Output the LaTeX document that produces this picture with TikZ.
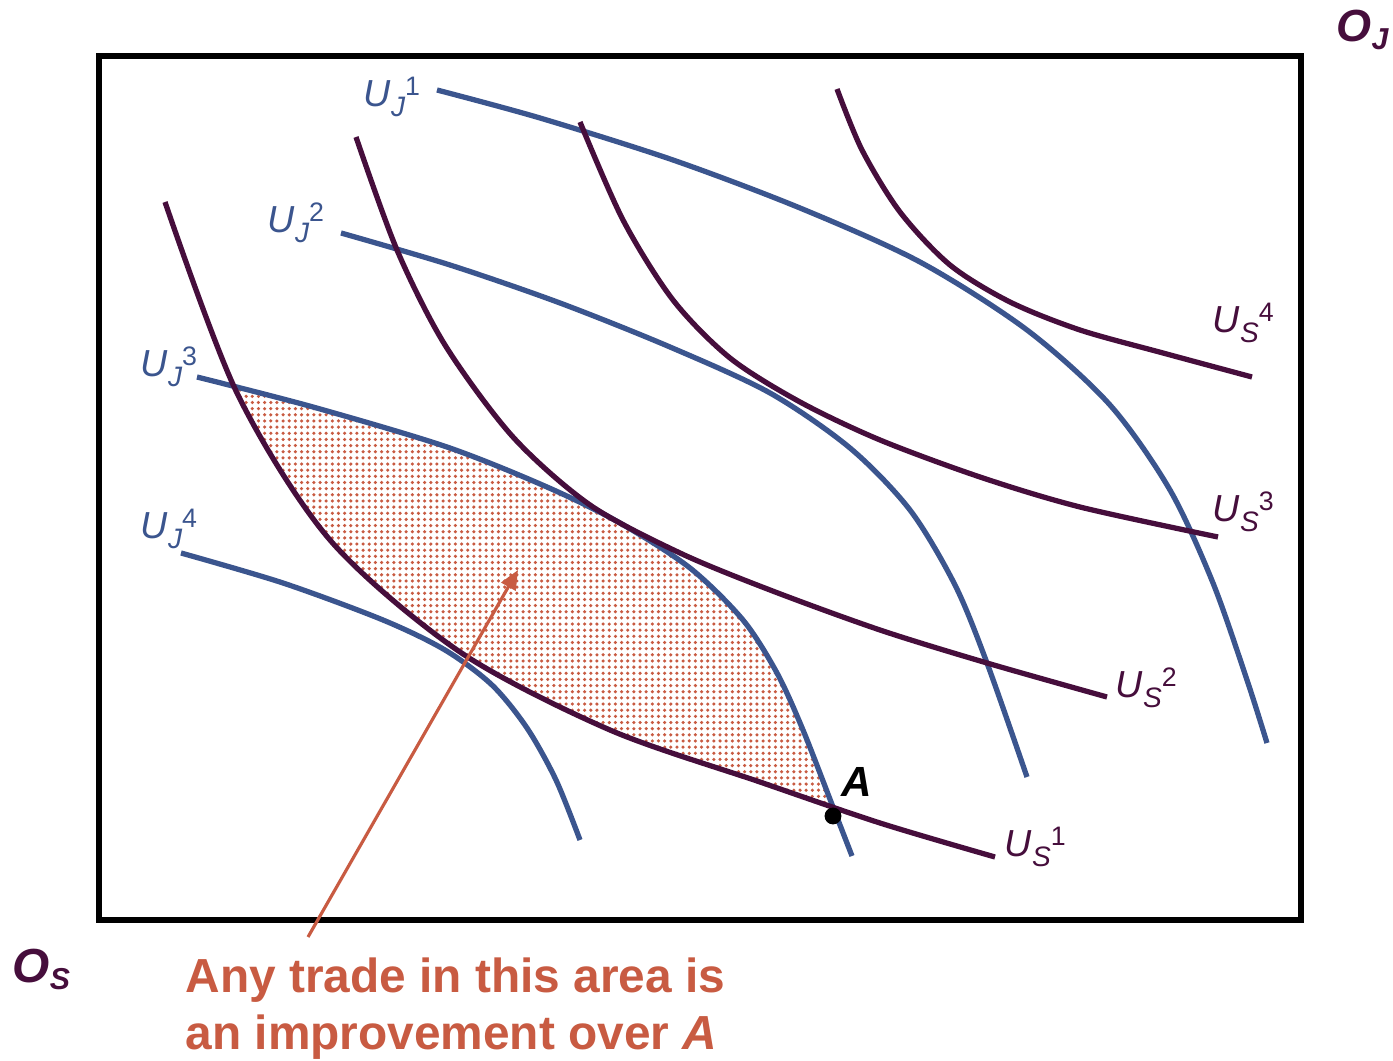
\documentclass[tikz,border=0pt]{standalone}
\usepackage{fontspec}
\setmainfont{Liberation Sans}
\usepackage{xcolor}
\usepackage{tikz}
\usetikzlibrary{patterns}
\usetikzlibrary{arrows.meta}

\definecolor{jblue}{RGB}{59,85,142}
\definecolor{splum}{RGB}{70,14,60}
\definecolor{notered}{RGB}{200,91,66}

% puntos finos para la zona sombreada
\pgfdeclarepatternformonly{finedots}{\pgfqpoint{-0.875pt}{-0.875pt}}{\pgfqpoint{0.875pt}{0.875pt}}{\pgfqpoint{1.75pt}{1.75pt}}{%
  \pgfpathcircle{\pgfpointorigin}{0.5pt}\pgfusepath{fill}}

% etiqueta U con subindice y superindice
\newcommand{\ulab}[2]{\textit{U}\raisebox{-2.6pt}{\fontsize{8}{9}\selectfont\itshape #1}\raisebox{3.4pt}{\fontsize{7.6}{9}\selectfont #2}}
\newcommand{\olab}[1]{\textbf{\textit{O}}\raisebox{-2pt}{\fontsize{8.6}{10}\selectfont\bfseries\itshape #1}}

\begin{document}
\begin{tikzpicture}[x=0.01cm, y=-0.01cm,
    jcurve/.style={jblue, line width=1.5pt},
    scurve/.style={splum, line width=1.5pt},
    ulabel/.style={inner sep=0pt, anchor=base west, font=\fontsize{10.7}{12}\selectfont},
  ]
  \useasboundingbox (0,0) rectangle (1393,1061);

  % Zona de mejora (entre U_J^3 y U_S^1)
  \begin{scope}
    \clip plot[smooth] coordinates {(197,377) (313,407) (447,447) (547,487) (620,523) (690,568) (743,620) (777,673) (803,730) (833,807) (852,856)}
      -- (852,1061) -- (197,1061) -- cycle;
    \fill[pattern=finedots, pattern color=notered] plot[smooth] coordinates {(165,202) (237,393) (330,540) (460,652) (610,730) (760,782) (880,823) (995,857)}
      -- (995,0) -- (165,0) -- cycle;
  \end{scope}

  % Curvas de indiferencia de J
  \draw[jcurve] plot[smooth] coordinates {(437,90) (540,118) (673,160) (800,208) (920,262) (1027,330) (1110,405) (1170,490) (1213,583) (1247,680) (1267,743)};
  \draw[jcurve] plot[smooth] coordinates {(341,233) (450,265) (560,303) (670,347) (770,393) (850,448) (910,510) (955,585) (987,663) (1027,777)};
  \draw[jcurve] plot[smooth] coordinates {(197,377) (313,407) (447,447) (547,487) (620,523) (690,568) (743,620) (777,673) (803,730) (833,807) (852,856)};
  \draw[jcurve] plot[smooth] coordinates {(181,553) (283,583) (383,620) (445,650) (492,685) (527,728) (556,780) (580,840)};

  % Curvas de indiferencia de S
  \draw[scurve] plot[smooth] coordinates {(165,202) (237,393) (330,540) (460,652) (610,730) (760,782) (880,823) (995,857)};
  \draw[scurve] plot[smooth] coordinates {(356,137) (397,250) (445,345) (513,437) (590,505) (680,553) (770,590) (880,630) (987,663) (1107,697)};
  \draw[scurve] plot[smooth] coordinates {(580,122) (623,220) (673,300) (730,358) (800,402) (880,440) (980,477) (1080,507) (1218,537)};
  \draw[scurve] plot[smooth] coordinates {(837,89) (862,150) (900,212) (950,265) (1010,302) (1080,330) (1163,353) (1252,377)};

  % Caja de Edgeworth
  \draw[line width=1.7pt] (99,56) rectangle (1301,920);

  % Etiquetas de las curvas
  \node[ulabel, jblue] (uj1) at (363,107) {\ulab{J}{1}};
  \node[ulabel, jblue] (uj2) at (267,233) {\ulab{J}{2}};
  \node[ulabel, jblue] (uj3) at (140,377) {\ulab{J}{3}};
  \node[ulabel, jblue] (uj4) at (140,539) {\ulab{J}{4}};
  \node[ulabel, splum] (us1) at (1004,857) {\ulab{S}{1}};
  \node[ulabel, splum] (us2) at (1115,698) {\ulab{S}{2}};
  \node[ulabel, splum] (us3) at (1212,522) {\ulab{S}{3}};
  \node[ulabel, splum] (us4) at (1212,333) {\ulab{S}{4}};

  % Origenes
  \node[splum, inner sep=0pt, anchor=base west, font=\fontsize{12.8}{15}\selectfont] (oj) at (1336,42) {\olab{J}};
  \node[splum, inner sep=0pt, anchor=base west, font=\fontsize{13.6}{15}\selectfont] (os) at (12,982) {\olab{S}};

  % Punto A
  \node[circle, fill=black, inner sep=0pt, minimum size=4.8pt] (ptA) at (833,816) {};
  \node[inner sep=0pt, anchor=base west, font=\fontsize{12}{14}\selectfont] (labA) at (841,797) {\textbf{\textit{A}}};

  % Nota y flecha
  \node[notered, inner sep=0pt, anchor=north west, align=left, font=\fontsize{13.6}{16.2}\selectfont\bfseries] (note) at (185,957) {Any trade in this area is\\an improvement over \textit{A}};
  \coordinate (tail) at (308,937);
  \coordinate (tip) at (518,570);
  \draw[notered, line width=0.9pt, -{Triangle[length=5.5pt,width=4.6pt]}] (tail) -- (tip);
\end{tikzpicture}
\end{document}
